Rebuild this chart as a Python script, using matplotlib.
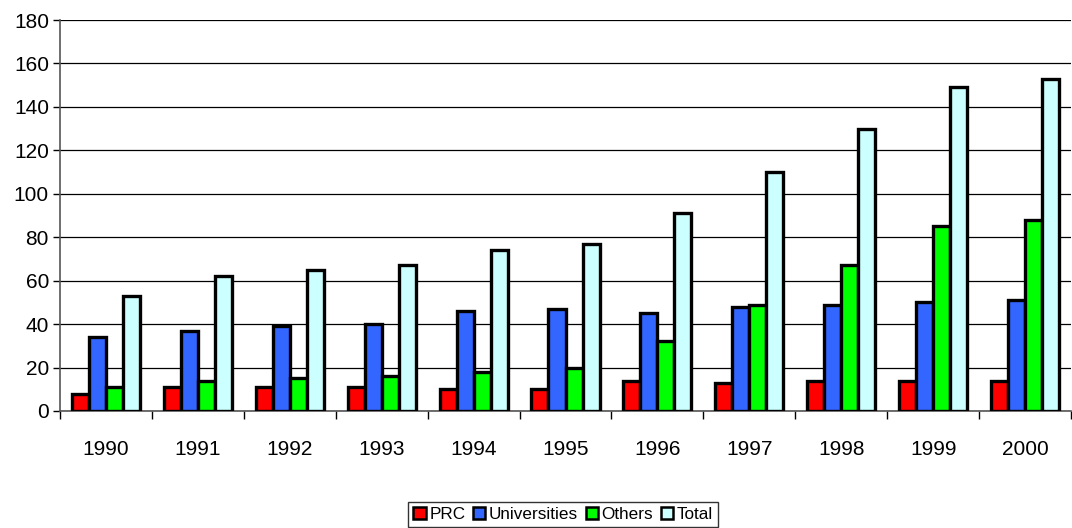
import matplotlib
matplotlib.use("Agg")
import matplotlib.pyplot as plt
import numpy as np
from matplotlib.patches import Patch

plt.rcParams['font.family'] = ['Liberation Sans', 'DejaVu Sans']

years = ['1990', '1991', '1992', '1993', '1994', '1995', '1996', '1997', '1998', '1999', '2000']
prc = [8, 11, 11, 11, 10, 10, 14, 13, 14, 14, 14]
universities = [34, 37, 39, 40, 46, 47, 45, 48, 49, 50, 51]
others = [11, 14, 15, 16, 18, 20, 32, 49, 67, 85, 88]
total = [53, 62, 65, 67, 74, 77, 91, 110, 130, 149, 153]

series = [('PRC', prc, '#ff0000'),
          ('Universities', universities, '#3366ff'),
          ('Others', others, '#00ff00'),
          ('Total', total, '#ccffff')]

fig = plt.figure(figsize=(10.72, 5.28), dpi=100)
ax = fig.add_axes([60 / 1072, 1 - 411 / 528, 1011 / 1072, 391 / 528])

x = np.arange(len(years))
w = 0.185
for i, (name, vals, col) in enumerate(series):
    ax.bar(x + (i - 1.5) * w, vals, width=w, color=col, edgecolor='black',
           linewidth=2.4, zorder=3, label=name)

ax.set_xlim(-0.5, len(years) - 0.5)
ax.set_ylim(0, 180)
ax.set_yticks(range(0, 181, 20))
ax.set_xticks(x)
ax.set_xticklabels(years)
ax.set_xticks(np.arange(-0.5, len(years), 1), minor=True)
ax.tick_params(axis='x', which='major', length=0, pad=21, labelsize=15)
ax.tick_params(axis='x', which='minor', length=6, width=1, color='black')
ax.tick_params(axis='y', length=5, width=1, labelsize=15, pad=3)
ax.grid(axis='y', color='black', linewidth=0.9, zorder=0)

for s in ['top', 'right']:
    ax.spines[s].set_visible(False)
ax.spines['left'].set_color('#555555')
ax.spines['bottom'].set_color('#555555')
ax.spines['left'].set_linewidth(1.2)
ax.spines['bottom'].set_linewidth(1.2)

handles = [Patch(facecolor=col, edgecolor='black', linewidth=1.8, label=name)
           for name, _, col in series]
leg = fig.legend(handles=handles, loc='lower center', bbox_to_anchor=(563 / 1072, -0.002),
                 ncol=4, fontsize=12.3, frameon=True, fancybox=False,
                 handlelength=0.72, handleheight=0.72, handletextpad=0.2,
                 columnspacing=0.45, borderpad=0.3, borderaxespad=0.1)
leg.get_frame().set_edgecolor('black')
leg.get_frame().set_linewidth(1.0)

fig.savefig('out.png', dpi=100)
